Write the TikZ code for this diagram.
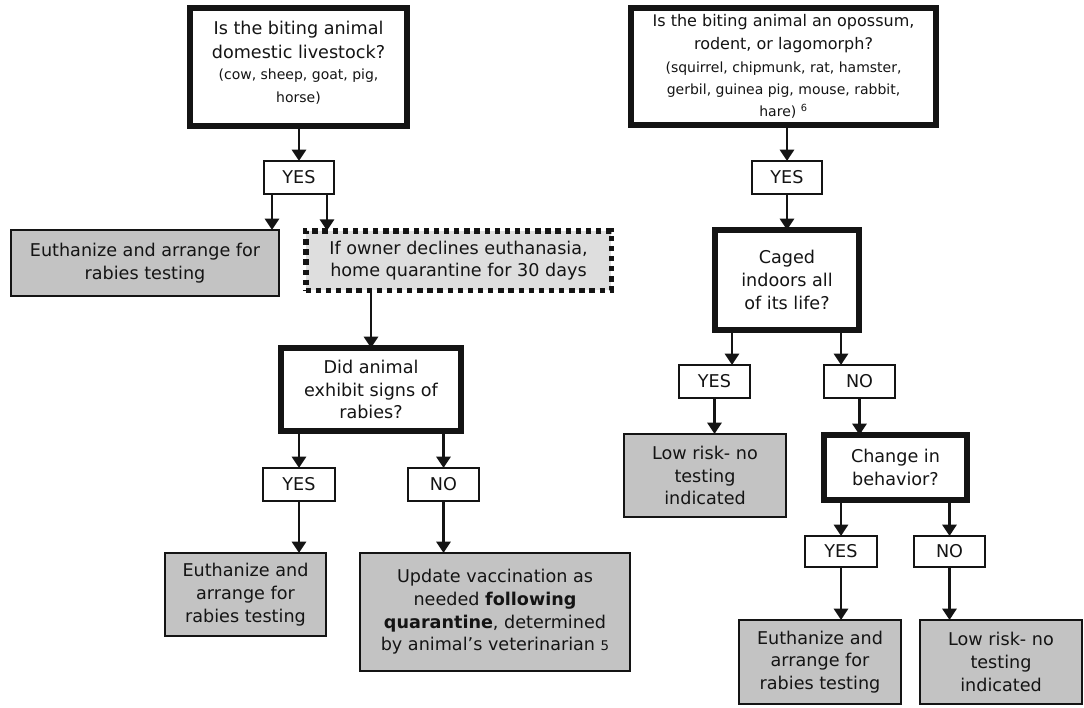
\documentclass[tikz,border=0pt]{standalone}
\usepackage{fontspec}
\setmainfont{DejaVu Sans}
\usetikzlibrary{arrows.meta,calc}
\definecolor{boxgray}{HTML}{C3C3C3}
\definecolor{dotgray}{HTML}{DEDEDE}
\definecolor{ink}{HTML}{141414}
\newcommand\mainf{\fontsize{13.2}{17}\selectfont}
\newcommand\topf{\fontsize{12}{14.3}\selectfont}
\newcommand\smallf{\fontsize{10.5}{13.5}\selectfont}
% name, x1, y1, x2, y2, line width px, style, text
\newcommand\mybox[8]{%
  \pgfmathsetmacro\cx{(#2+#4)/2}%
  \pgfmathsetmacro\cy{(#3+#5)/2}%
  \pgfmathsetmacro\ww{(#4-#2-#6)*0.75}%
  \pgfmathsetmacro\hh{(#5-#3-#6)*0.75}%
  \node[#7, line width=#6*0.75pt, minimum width=\ww pt, minimum height=\hh pt] (#1) at (\cx,\cy) {#8};%
}
\begin{document}
\begin{tikzpicture}[x=0.75pt,y=-0.75pt,
  every node/.style={inner sep=0pt, outer sep=0pt, align=center, font=\mainf, text=ink},
  question/.style={draw=ink, fill=white, rectangle},
  answer/.style={draw=ink, fill=white, rectangle},
  result/.style={draw=ink, fill=boxgray, rectangle},
  dotbox/.style={draw=ink, fill=dotgray, rectangle, dash pattern=on 4pt off 3.6pt},
  arr/.style={draw=ink, line width=2.2pt, -{Triangle[width=10.5pt,length=8.5pt]}}]
\useasboundingbox (0,0) rectangle (1084,707);

% left column
\mybox{q1}{187}{5}{410}{129}{6}{question}{Is the biting animal\\[1pt]domestic livestock?\\[-1.5pt]{\smallf (cow, sheep, goat, pig,}\\{\smallf horse)\rule[-8pt]{0pt}{8pt}}}
\mybox{y1}{263}{160}{335}{195}{2}{answer}{YES}
\mybox{r1}{10}{229}{280}{297}{2}{result}{Euthanize and arrange for\\rabies testing}
\mybox{d1}{303}{228}{614}{293}{5.5}{dotbox}{If owner declines euthanasia,\\home quarantine for 30 days}
\mybox{q3}{278}{345}{464}{434}{6}{question}{Did animal\\exhibit signs of\\rabies?}
\mybox{y3}{262}{467}{336}{502}{2}{answer}{YES}
\mybox{n3}{407}{467}{480}{502}{2}{answer}{NO}
\mybox{r2}{164}{552}{327}{637}{2}{result}{Euthanize and\\arrange for\\rabies testing}
\mybox{r3}{359}{552}{631}{672}{2}{result}{Update vaccination as\\needed \textbf{following}\\\textbf{quarantine}, determined\\by animal’s veterinarian {\fontsize{10}{12}\selectfont 5}}

% right column
\mybox{q2}{628}{5}{939}{128}{6}{question}{{\topf Is the biting animal an opossum,}\\{\topf rodent, or lagomorph?}\\[0.5pt]{\smallf (squirrel, chipmunk, rat, hamster,}\\[-0.5pt]{\smallf gerbil, guinea pig, mouse, rabbit,}\\[-0.5pt]{\smallf hare) \textsuperscript{6}}}
\mybox{y2}{751}{160}{823}{195}{2}{answer}{YES}
\mybox{q4}{712}{227}{862}{333}{6}{question}{Caged\\indoors all\\of its life?}
\mybox{y4}{678}{364}{751}{399}{2}{answer}{YES}
\mybox{n4}{823}{364}{896}{399}{2}{answer}{NO}
\mybox{r4}{623}{433}{787}{518}{2}{result}{Low risk- no\\testing\\indicated}
\mybox{q5}{821}{432}{970}{503}{6}{question}{Change in\\behavior?}
\mybox{y5}{804}{535}{878}{568}{2}{answer}{YES}
\mybox{n5}{913}{535}{986}{568}{2}{answer}{NO}
\mybox{r5}{738}{619}{902}{705}{2}{result}{Euthanize and\\arrange for\\rabies testing}
\mybox{r6}{919}{619}{1083}{705}{2}{result}{Low risk- no\\testing\\indicated}

% connector anchors
\coordinate (a1) at ($(y1.south)+(-27,0)$);
\coordinate (a2) at ($(y1.south)+(28,0)$);
\coordinate (a3) at ($(y4.north)+(17.5,0)$);
\coordinate (a4) at ($(n4.north)+(-18.5,0)$);

% left connectors
\draw[arr] (y1.north |- q1.south) -- (y1.north);
\draw[arr] (a1) -- (a1 |- r1.north);
\draw[arr] (a2) -- (a2 |- d1.north);
\draw[arr] (q3.north |- d1.south) -- (q3.north);
\draw[arr] (y3.north |- q3.south) -- (y3.north);
\draw[arr] (n3.north |- q3.south) -- (n3.north);
\draw[arr] (y3.south) -- (y3.south |- r2.north);
\draw[arr] (n3.south) -- (n3.south |- r3.north);

% right connectors
\draw[arr] (y2.north |- q2.south) -- (y2.north);
\draw[arr] (y2.south) -- (y2.south |- q4.north);
\draw[arr] (a3 |- q4.south) -- (a3);
\draw[arr] (a4 |- q4.south) -- (a4);
\draw[arr] (y4.south) -- (y4.south |- r4.north);
\draw[arr] (n4.south) -- (n4.south |- q5.north);
\draw[arr] (y5.north |- q5.south) -- (y5.north);
\draw[arr] (n5.north |- q5.south) -- (n5.north);
\draw[arr] (y5.south) -- (y5.south |- r5.north);
\draw[arr] (n5.south) -- (n5.south |- r6.north);
\end{tikzpicture}
\end{document}
